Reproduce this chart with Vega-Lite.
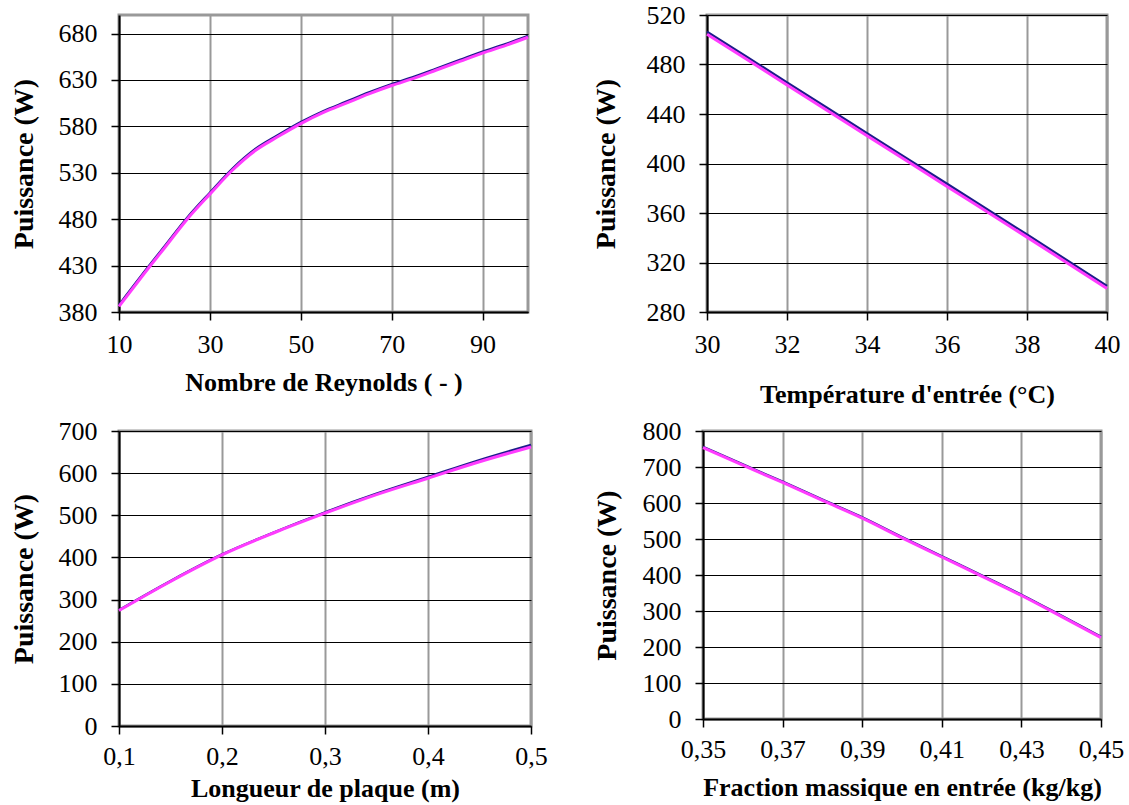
{
  "$schema": "https://vega.github.io/schema/vega-lite/v6.json",
  "background": "white",
  "padding": {"left": 8, "top": 0, "right": 5, "bottom": 5},
  "spacing": 7,
  "config": {
    "font": "Liberation Serif",
    "view": {"stroke": "#999999", "strokeWidth": 3},
    "line": {"interpolate": "monotone"},
    "axis": {
      "labelFont": "Liberation Serif", "labelFontSize": 26, "labelColor": "black",
      "titleFont": "Liberation Serif", "titleFontSize": 26, "titleFontWeight": "bold", "titleColor": "black",
      "domainColor": "black", "domainWidth": 2, "tickColor": "black", "tickWidth": 1.5, "tickSize": 8,
      "gridOpacity": 1
    },
    "axisX": {"gridColor": "#999999", "gridWidth": 2, "labelPadding": 11, "titlePadding": 12, "labelFlush": false},
    "axisY": {"gridColor": "black", "gridWidth": 1.2, "labelPadding": 14, "titlePadding": 20, "titleFontSize": 28}
  },
  "datasets": {
    "re": [
      {"x": 10, "y": 387.5, "s": "b"}, {"x": 15, "y": 419.5, "s": "b"}, {"x": 20, "y": 450.5, "s": "b"}, {"x": 25, "y": 481.5, "s": "b"},
      {"x": 30, "y": 508.5, "s": "b"}, {"x": 35, "y": 534.5, "s": "b"}, {"x": 40, "y": 555.5, "s": "b"}, {"x": 45, "y": 570.5, "s": "b"},
      {"x": 50, "y": 584.5, "s": "b"}, {"x": 55, "y": 596.5, "s": "b"}, {"x": 60, "y": 606.5, "s": "b"}, {"x": 65, "y": 616.5, "s": "b"},
      {"x": 70, "y": 625.5, "s": "b"}, {"x": 75, "y": 633.5, "s": "b"}, {"x": 80, "y": 642.5, "s": "b"}, {"x": 85, "y": 651.5, "s": "b"},
      {"x": 90, "y": 660.5, "s": "b"}, {"x": 95, "y": 668.5, "s": "b"}, {"x": 100, "y": 677.5, "s": "b"},
      {"x": 10, "y": 386, "s": "m"}, {"x": 15, "y": 418, "s": "m"}, {"x": 20, "y": 449, "s": "m"}, {"x": 25, "y": 480, "s": "m"},
      {"x": 30, "y": 507, "s": "m"}, {"x": 35, "y": 533, "s": "m"}, {"x": 40, "y": 554, "s": "m"}, {"x": 45, "y": 569, "s": "m"},
      {"x": 50, "y": 583, "s": "m"}, {"x": 55, "y": 595, "s": "m"}, {"x": 60, "y": 605, "s": "m"}, {"x": 65, "y": 615, "s": "m"},
      {"x": 70, "y": 624, "s": "m"}, {"x": 75, "y": 632, "s": "m"}, {"x": 80, "y": 641, "s": "m"}, {"x": 85, "y": 650, "s": "m"},
      {"x": 90, "y": 659, "s": "m"}, {"x": 95, "y": 667, "s": "m"}, {"x": 100, "y": 676, "s": "m"}
    ],
    "temp": [
      {"x": 30, "y": 506.5, "s": "b"}, {"x": 32, "y": 465.5, "s": "b"}, {"x": 34, "y": 424.5, "s": "b"},
      {"x": 36, "y": 383.5, "s": "b"}, {"x": 38, "y": 342.5, "s": "b"}, {"x": 40, "y": 301, "s": "b"},
      {"x": 30, "y": 504.5, "s": "m"}, {"x": 32, "y": 463.5, "s": "m"}, {"x": 34, "y": 422.5, "s": "m"},
      {"x": 36, "y": 381.5, "s": "m"}, {"x": 38, "y": 340.5, "s": "m"}, {"x": 40, "y": 299, "s": "m"}
    ],
    "len": [
      {"x": 0.1, "y": 275, "s": "b"}, {"x": 0.15, "y": 344, "s": "b"}, {"x": 0.2, "y": 407, "s": "b"}, {"x": 0.25, "y": 459, "s": "b"},
      {"x": 0.3, "y": 507, "s": "b"}, {"x": 0.35, "y": 551, "s": "b"}, {"x": 0.4, "y": 591, "s": "b"}, {"x": 0.45, "y": 631, "s": "b"},
      {"x": 0.5, "y": 667, "s": "b"},
      {"x": 0.1, "y": 274, "s": "m"}, {"x": 0.15, "y": 343, "s": "m"}, {"x": 0.2, "y": 406, "s": "m"}, {"x": 0.25, "y": 458, "s": "m"},
      {"x": 0.3, "y": 505, "s": "m"}, {"x": 0.35, "y": 549, "s": "m"}, {"x": 0.4, "y": 588, "s": "m"}, {"x": 0.45, "y": 627, "s": "m"},
      {"x": 0.5, "y": 662, "s": "m"}
    ],
    "frac": [
      {"x": 0.35, "y": 756, "s": "b"}, {"x": 0.36, "y": 707, "s": "b"}, {"x": 0.37, "y": 659, "s": "b"}, {"x": 0.38, "y": 609, "s": "b"},
      {"x": 0.39, "y": 560, "s": "b"}, {"x": 0.4, "y": 505, "s": "b"}, {"x": 0.41, "y": 452, "s": "b"}, {"x": 0.42, "y": 399, "s": "b"},
      {"x": 0.43, "y": 345, "s": "b"}, {"x": 0.44, "y": 287, "s": "b"}, {"x": 0.45, "y": 228, "s": "b"},
      {"x": 0.35, "y": 754, "s": "m"}, {"x": 0.36, "y": 705, "s": "m"}, {"x": 0.37, "y": 657, "s": "m"}, {"x": 0.38, "y": 607, "s": "m"},
      {"x": 0.39, "y": 558, "s": "m"}, {"x": 0.4, "y": 503, "s": "m"}, {"x": 0.41, "y": 450, "s": "m"}, {"x": 0.42, "y": 397, "s": "m"},
      {"x": 0.43, "y": 343, "s": "m"}, {"x": 0.44, "y": 285, "s": "m"}, {"x": 0.45, "y": 226, "s": "m"}
    ]
  },
  "vconcat": [
    {
      "bounds": "flush",
      "spacing": 179,
      "hconcat": [
        {
          "width": 409, "height": 297,
          "data": {"name": "re"},
          "encoding": {
            "x": {"field": "x", "type": "quantitative", "scale": {"domain": [10, 100], "nice": false},
                  "axis": {"title": "Nombre de Reynolds ( - )", "values": [10, 30, 50, 70, 90]}},
            "y": {"field": "y", "type": "quantitative", "scale": {"domain": [380, 700], "nice": false, "zero": false},
                  "axis": {"title": "Puissance (W)", "values": [380, 430, 480, 530, 580, 630, 680]}}
          },
          "layer": [
            {"transform": [{"filter": "datum.s == 'b'"}], "mark": {"type": "line", "color": "#1c1c8a", "strokeWidth": 2.5}},
            {"transform": [{"filter": "datum.s == 'm'"}], "mark": {"type": "line", "color": "#ff3cff", "strokeWidth": 3}}
          ]
        },
        {
          "width": 400, "height": 297,
          "data": {"name": "temp"},
          "encoding": {
            "x": {"field": "x", "type": "quantitative", "scale": {"domain": [30, 40], "nice": false, "zero": false},
                  "axis": {"title": "Température d'entrée (°C)", "values": [30, 32, 34, 36, 38, 40], "titlePadding": 24}},
            "y": {"field": "y", "type": "quantitative", "scale": {"domain": [280, 520], "nice": false, "zero": false},
                  "axis": {"title": "Puissance (W)", "values": [280, 320, 360, 400, 440, 480, 520], "titlePadding": 26}}
          },
          "layer": [
            {"transform": [{"filter": "datum.s == 'b'"}], "mark": {"type": "line", "color": "#1c1c8a", "strokeWidth": 2.5}},
            {"transform": [{"filter": "datum.s == 'm'"}], "mark": {"type": "line", "color": "#ff3cff", "strokeWidth": 3}}
          ]
        }
      ]
    },
    {
      "bounds": "flush",
      "spacing": 172,
      "hconcat": [
        {
          "width": 412, "height": 295,
          "data": {"name": "len"},
          "encoding": {
            "x": {"field": "x", "type": "quantitative", "scale": {"domain": [0.1, 0.5], "nice": false, "zero": false},
                  "axis": {"title": "Longueur de plaque (m)", "values": [0.1, 0.2, 0.3, 0.4, 0.5],
                           "labelExpr": "replace(format(datum.value, '.1f'), '.', ',')", "titlePadding": 6, "labelPadding": 9}},
            "y": {"field": "y", "type": "quantitative", "scale": {"domain": [0, 700], "nice": false},
                  "axis": {"title": "Puissance (W)", "values": [0, 100, 200, 300, 400, 500, 600, 700]}}
          },
          "layer": [
            {"transform": [{"filter": "datum.s == 'b'"}], "mark": {"type": "line", "color": "#1c1c8a", "strokeWidth": 2.5}},
            {"transform": [{"filter": "datum.s == 'm'"}], "mark": {"type": "line", "color": "#ff3cff", "strokeWidth": 3}}
          ]
        },
        {
          "width": 398, "height": 288,
          "data": {"name": "frac"},
          "encoding": {
            "x": {"field": "x", "type": "quantitative", "scale": {"domain": [0.35, 0.45], "nice": false, "zero": false},
                  "axis": {"title": "Fraction massique en entrée (kg/kg)", "values": [0.35, 0.37, 0.39, 0.41, 0.43, 0.45],
                           "labelExpr": "replace(format(datum.value, '.2f'), '.', ',')", "titlePadding": 12, "labelPadding": 9}},
            "y": {"field": "y", "type": "quantitative", "scale": {"domain": [0, 800], "nice": false},
                  "axis": {"title": "Puissance (W)", "values": [0, 100, 200, 300, 400, 500, 600, 700, 800], "titlePadding": 21}}
          },
          "layer": [
            {"transform": [{"filter": "datum.s == 'b'"}], "mark": {"type": "line", "color": "#1c1c8a", "strokeWidth": 2.5}},
            {"transform": [{"filter": "datum.s == 'm'"}], "mark": {"type": "line", "color": "#ff3cff", "strokeWidth": 3}}
          ]
        }
      ]
    }
  ]
}
